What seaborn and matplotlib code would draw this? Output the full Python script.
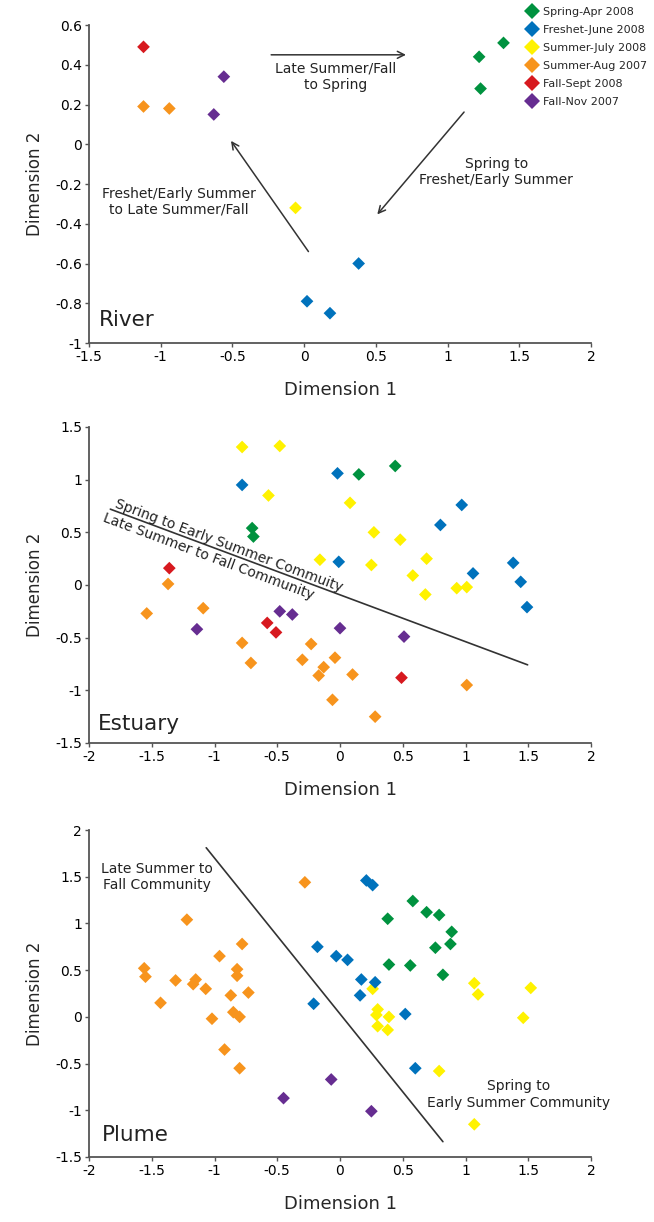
import numpy as np
import pandas as pd
import matplotlib
matplotlib.use("Agg")
import matplotlib.pyplot as plt
import matplotlib.transforms as mtransforms
from matplotlib import font_manager
from matplotlib.lines import Line2D
import seaborn as sns

# ---------------- data ----------------
seasons = ["Spring-Apr 2008", "Freshet-June 2008", "Summer-July 2008",
           "Summer-Aug 2007", "Fall-Sept 2008", "Fall-Nov 2007"]
season_colors = ["#00923F", "#0072BC", "#FFF200", "#F7941D", "#D7191F", "#662D91"]

# River
river_spring_x = [1.22, 1.39, 1.23]
river_spring_y = [0.44, 0.51, 0.28]
river_freshet_x = [0.38, 0.02, 0.18]
river_freshet_y = [-0.60, -0.79, -0.85]
river_july_x = [-0.06]
river_july_y = [-0.32]
river_aug_x = [-1.12, -0.94]
river_aug_y = [0.19, 0.18]
river_sept_x = [-1.12]
river_sept_y = [0.49]
river_nov_x = [-0.56, -0.63]
river_nov_y = [0.34, 0.15]

# Estuary
est_spring_x = [0.15, 0.44, -0.70, -0.69]
est_spring_y = [1.05, 1.13, 0.54, 0.46]
est_freshet_x = [-0.78, -0.02, -0.01, 0.97, 0.80, 1.38, 1.06, 1.44, 1.49]
est_freshet_y = [0.95, 1.06, 0.22, 0.76, 0.57, 0.21, 0.11, 0.03, -0.21]
est_july_x = [-0.78, -0.48, -0.57, 0.08, 0.27, 0.48, -0.16, 0.25, 0.69, 0.58, 0.68, 0.93, 1.01]
est_july_y = [1.31, 1.32, 0.85, 0.78, 0.50, 0.43, 0.24, 0.19, 0.25, 0.09, -0.09, -0.03, -0.02]
est_aug_x = [-1.37, -1.54, -1.09, -0.78, -0.71, -0.23, -0.30, -0.04, -0.13, -0.17, 0.10, -0.06, 0.28, 1.01]
est_aug_y = [0.01, -0.27, -0.22, -0.55, -0.74, -0.56, -0.71, -0.69, -0.78, -0.86, -0.85, -1.09, -1.25, -0.95]
est_sept_x = [-1.36, -0.58, -0.51, 0.49]
est_sept_y = [0.16, -0.36, -0.45, -0.88]
est_nov_x = [-1.14, -0.48, -0.38, 0.00, 0.51]
est_nov_y = [-0.42, -0.25, -0.28, -0.41, -0.49]

# Plume
plume_spring_x = [0.58, 0.69, 0.79, 0.38, 0.89, 0.88, 0.76, 0.39, 0.56, 0.82]
plume_spring_y = [1.24, 1.12, 1.09, 1.05, 0.91, 0.78, 0.74, 0.56, 0.55, 0.45]
plume_freshet_x = [0.21, 0.26, -0.18, -0.03, 0.06, 0.17, 0.28, 0.16, -0.21, 0.52, 0.60]
plume_freshet_y = [1.46, 1.41, 0.75, 0.65, 0.61, 0.40, 0.37, 0.23, 0.14, 0.03, -0.55]
plume_july_x = [0.26, 0.30, 0.29, 0.39, 0.30, 0.38, 1.07, 1.10, 1.52, 1.46, 0.79, 1.07]
plume_july_y = [0.30, 0.08, 0.02, 0.00, -0.10, -0.14, 0.36, 0.24, 0.31, -0.01, -0.58, -1.15]
plume_aug_x = [-0.28, -1.22, -0.78, -0.96, -1.56, -1.55, -1.31, -1.15, -1.17, -1.07,
               -0.82, -0.82, -0.87, -0.73, -1.43, -1.02, -0.85, -0.80, -0.92, -0.80]
plume_aug_y = [1.44, 1.04, 0.78, 0.65, 0.52, 0.43, 0.39, 0.40, 0.35, 0.30,
               0.51, 0.44, 0.23, 0.26, 0.15, -0.02, 0.05, 0.00, -0.35, -0.55]
plume_sept_x = []
plume_sept_y = []
plume_nov_x = [-0.45, -0.07, 0.25]
plume_nov_y = [-0.87, -0.67, -1.01]

# divider lines (x0, y0, x1, y1)
est_line = [-1.83, 0.72, 1.495, -0.758]
plume_line = [-1.066, 1.81, 0.82, -1.336]

# ---------------- style ----------------
sns.set_style("white")
plt.rcParams["font.family"] = ["DejaVu Sans"]
plt.rcParams["axes.unicode_minus"] = False


def have_font(name):
    try:
        font_manager.findfont(font_manager.FontProperties(family=name),
                              fallback_to_default=False)
        return True
    except Exception:
        return False


title_font = "Liberation Sans Narrow" if have_font("Liberation Sans Narrow") else "DejaVu Sans"
title_size = 17 if title_font == "Liberation Sans Narrow" else 13

palette = dict(zip(seasons, season_colors))
W, H = 654, 1222
fig = plt.figure(figsize=(W / 100, H / 100), dpi=100)


def add_ax(top_px, bottom_px):
    return fig.add_axes([89 / W, 1 - bottom_px / H, 502 / W, (bottom_px - top_px) / H])


ax1 = add_ax(25, 343)
ax2 = add_ax(427, 743)
ax3 = add_ax(830, 1157)


def make_df(groups):
    rows = []
    for season, xs, ys in groups:
        for x, y in zip(xs, ys):
            rows.append({"x": x, "y": y, "season": season})
    return pd.DataFrame(rows)


def panel_groups(sp, fr, jl, au, se, nv):
    # drawing order: summer first, freshet on top
    return [(seasons[2], *jl), (seasons[3], *au), (seasons[4], *se),
            (seasons[5], *nv), (seasons[0], *sp), (seasons[1], *fr)]


river_df = make_df(panel_groups((river_spring_x, river_spring_y), (river_freshet_x, river_freshet_y),
                                (river_july_x, river_july_y), (river_aug_x, river_aug_y),
                                (river_sept_x, river_sept_y), (river_nov_x, river_nov_y)))
est_df = make_df(panel_groups((est_spring_x, est_spring_y), (est_freshet_x, est_freshet_y),
                              (est_july_x, est_july_y), (est_aug_x, est_aug_y),
                              (est_sept_x, est_sept_y), (est_nov_x, est_nov_y)))
plume_df = make_df(panel_groups((plume_spring_x, plume_spring_y), (plume_freshet_x, plume_freshet_y),
                                (plume_july_x, plume_july_y), (plume_aug_x, plume_aug_y),
                                (plume_sept_x, plume_sept_y), (plume_nov_x, plume_nov_y)))

spine_c = "#555555"
line_c = "#333333"


def fmt(v):
    v = round(v, 2)
    if abs(v) < 1e-9:
        v = 0.0
    return f"{v:g}"


def style_axis(ax, xlim, ylim, xticks, yticks):
    ax.set_xlim(*xlim)
    ax.set_ylim(*ylim)
    ax.set_xticks(xticks)
    ax.set_yticks(yticks)
    ax.set_xticklabels([fmt(v) for v in xticks])
    ax.set_yticklabels([fmt(v) for v in yticks])
    for s in ["top", "right"]:
        ax.spines[s].set_visible(False)
    for s in ["left", "bottom"]:
        ax.spines[s].set_color(spine_c)
        ax.spines[s].set_linewidth(1.3)
    ax.tick_params(axis="both", direction="out", length=3, width=1.0, color=spine_c,
                   labelsize=10, labelcolor="black", pad=2, left=True, bottom=True)
    ax.set_xlabel("Dimension 1", fontsize=title_size, family=title_font, labelpad=12)
    ax.set_ylabel("Dimension 2", fontsize=title_size - 1, family=title_font, labelpad=8)
    ax.grid(False)
    ax.set_facecolor("white")


for ax, df in [(ax1, river_df), (ax2, est_df), (ax3, plume_df)]:
    sns.scatterplot(data=df, x="x", y="y", hue="season", hue_order=seasons, palette=palette,
                    marker="D", s=42, linewidth=0, legend=False, ax=ax, zorder=3)

style_axis(ax1, (-1.5, 2), (-1, 0.6), np.arange(-1.5, 2.01, 0.5), np.arange(-1, 0.61, 0.2))
style_axis(ax2, (-2, 2), (-1.5, 1.5), np.arange(-2, 2.01, 0.5), np.arange(-1.5, 1.51, 0.5))
style_axis(ax3, (-2, 2), (-1.5, 2), np.arange(-2, 2.01, 0.5), np.arange(-1.5, 2.01, 0.5))

# ---------------- River annotations ----------------
arrow_kw = dict(arrowstyle="->,head_length=0.5,head_width=0.25", color=line_c, lw=1.1,
                shrinkA=0, shrinkB=0)
ax1.annotate("", xy=(0.71, 0.45), xytext=(-0.23, 0.45), arrowprops=arrow_kw)
ax1.annotate("", xy=(0.51, -0.353), xytext=(1.115, 0.162), arrowprops=arrow_kw)
ax1.annotate("", xy=(-0.51, 0.017), xytext=(0.03, -0.54), arrowprops=arrow_kw)
txt_kw = dict(fontsize=10, ha="center", va="center", multialignment="center", color="#222222")
ax1.text(0.22, 0.34, "Late Summer/Fall\nto Spring", **txt_kw)
ax1.text(1.34, -0.14, "Spring to\nFreshet/Early Summer", **txt_kw)
ax1.text(-0.876, -0.29, "Freshet/Early Summer\nto Late Summer/Fall", **txt_kw)
ax1.text(-1.43, -0.885, "River", fontsize=15.5, ha="left", va="center", color="#222222")

# ---------------- Estuary annotations ----------------
x0, y0, x1, y1 = est_line
ax2.plot([x0, x1], [y0, y1], color=line_c, lw=1.2, zorder=2)
p0 = ax2.transData.transform((x0, y0))
p1 = ax2.transData.transform((x1, y1))
ang = np.degrees(np.arctan2(p1[1] - p0[1], p1[0] - p0[0]))
slope = (y1 - y0) / (x1 - x0)
nx, ny = -np.sin(np.radians(ang)), np.cos(np.radians(ang))
up_x = -0.905
tr_up = mtransforms.offset_copy(ax2.transData, fig=fig, x=2.0 * nx, y=2.0 * ny, units="points")
ax2.text(up_x, y0 + slope * (up_x - x0), "Spring to Early Summer Commuity", transform=tr_up,
         rotation=ang, rotation_mode="anchor", ha="center", va="baseline", fontsize=10,
         color="#222222")
lo_x = -1.02
tr_lo = mtransforms.offset_copy(ax2.transData, fig=fig, x=-2.0 * nx, y=-2.0 * ny, units="points")
ax2.text(lo_x, y0 + slope * (lo_x - x0), "Late Summer to Fall Community", transform=tr_lo,
         rotation=ang, rotation_mode="anchor", ha="center", va="top", fontsize=10,
         color="#222222")
ax2.text(-1.93, -1.32, "Estuary", fontsize=15.5, ha="left", va="center", color="#222222")

# ---------------- Plume annotations ----------------
x0, y0, x1, y1 = plume_line
ax3.plot([x0, x1], [y0, y1], color=line_c, lw=1.2, zorder=2)
ax3.text(-1.46, 1.50, "Late Summer to\nFall Community", **txt_kw)
ax3.text(1.42, -0.83, "Spring to\nEarly Summer Community", **txt_kw)
ax3.text(-1.9, -1.265, "Plume", fontsize=15.5, ha="left", va="center", color="#222222")

# ---------------- legend ----------------
handles = [Line2D([0], [0], marker="D", linestyle="none", markersize=7.8,
                  markerfacecolor=c, markeredgewidth=0) for c in season_colors]
fig.legend(handles, seasons, loc="upper left", bbox_to_anchor=(526 / W, 1 - 7 / H),
           frameon=False, fontsize=8.0, handlelength=1.0, handletextpad=0.55,
           labelspacing=0.72, borderpad=0, borderaxespad=0)

fig.savefig("out.png", dpi=100, facecolor="white")
